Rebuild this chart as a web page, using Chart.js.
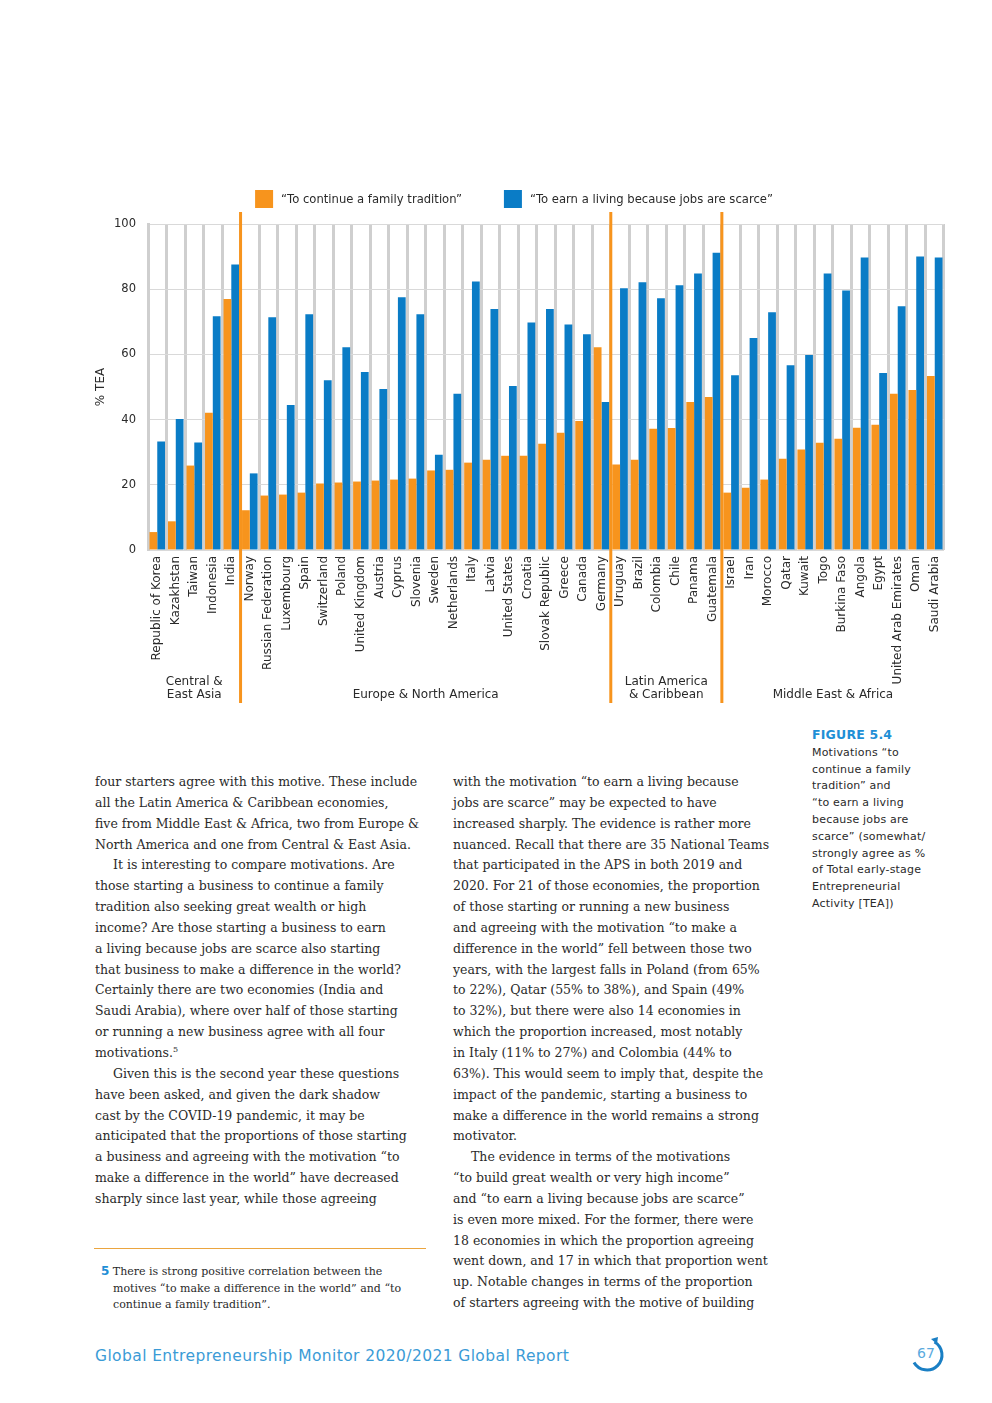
<!DOCTYPE html>
<html>
<head>
<meta charset="utf-8">
<script src="https://cdn.jsdelivr.net/npm/chart.js@4.4.1/dist/chart.umd.min.js"></script>
<style>
html, body { margin: 0; padding: 0; background: #fff; }
body { width: 992px; height: 1403px; position: relative; overflow: hidden; }
#chartBox { position: absolute; left: 88px; top: 180px; width: 872px; height: 530px; }
.col { position: absolute; top: 772px; font-family: 'DejaVu Serif', serif; font-size: 12.5px; line-height: 20.85px; color: #2a2a2a; white-space: pre; }
.ind { display: inline-block; width: 18px; }
sup { font-size: 8px; line-height: 0; }
.caption { position: absolute; left: 812px; top: 727px; font-family: 'DejaVu Sans', sans-serif; font-size: 11px; line-height: 16.8px; color: #2a2a2a; white-space: pre; letter-spacing: 0.2px; }
.caption b { color: #1f8fd6; font-size: 12.5px; font-weight: bold; }
.rule { position: absolute; left: 94px; top: 1248px; width: 332px; height: 1px; background: #eba53f; }
.note { position: absolute; left: 101px; top: 1263px; font-family: 'DejaVu Serif', serif; font-size: 11px; line-height: 16.5px; color: #2a2a2a; white-space: pre; }
.note b { font-family: 'DejaVu Sans', sans-serif; color: #1f8fd6; font-size: 12px; }
.note .ind2 { display: inline-block; width: 12px; }
.footer { position: absolute; left: 95px; top: 1347px; font-family: 'DejaVu Sans', sans-serif; font-size: 15.5px; color: #3b9bd6; letter-spacing: 0.4px; white-space: pre; }
.pnum { position: absolute; left: 905px; top: 1335px; width: 46px; height: 42px; }
.pnum span { position: absolute; left: 12px; top: 10px; font-family: 'DejaVu Sans', sans-serif; font-size: 14px; color: #5aaade; }
</style>
</head>
<body>
<div id="chartBox"><canvas id="chart"></canvas></div>

<div class="caption"><b>FIGURE 5.4</b>
Motivations “to
continue a family
tradition” and
“to earn a living
because jobs are
scarce” (somewhat/
strongly agree as %
of Total early-stage
Entrepreneurial
Activity [TEA])</div>

<div class="col" style="left:95px;">four starters agree with this motive. These include
all the Latin America &amp; Caribbean economies,
five from Middle East &amp; Africa, two from Europe &amp;
North America and one from Central &amp; East Asia.
<span class="ind"></span>It is interesting to compare motivations. Are
those starting a business to continue a family
tradition also seeking great wealth or high
income? Are those starting a business to earn
a living because jobs are scarce also starting
that business to make a difference in the world?
Certainly there are two economies (India and
Saudi Arabia), where over half of those starting
or running a new business agree with all four
motivations.<sup>5</sup>
<span class="ind"></span>Given this is the second year these questions
have been asked, and given the dark shadow
cast by the COVID-19 pandemic, it may be
anticipated that the proportions of those starting
a business and agreeing with the motivation “to
make a difference in the world” have decreased
sharply since last year, while those agreeing</div>

<div class="col" style="left:453px;">with the motivation “to earn a living because
jobs are scarce” may be expected to have
increased sharply. The evidence is rather more
nuanced. Recall that there are 35 National Teams
that participated in the APS in both 2019 and
2020. For 21 of those economies, the proportion
of those starting or running a new business
and agreeing with the motivation “to make a
difference in the world” fell between those two
years, with the largest falls in Poland (from 65%
to 22%), Qatar (55% to 38%), and Spain (49%
to 32%), but there were also 14 economies in
which the proportion increased, most notably
in Italy (11% to 27%) and Colombia (44% to
63%). This would seem to imply that, despite the
impact of the pandemic, starting a business to
make a difference in the world remains a strong
motivator.
<span class="ind"></span>The evidence in terms of the motivations
“to build great wealth or very high income”
and “to earn a living because jobs are scarce”
is even more mixed. For the former, there were
18 economies in which the proportion agreeing
went down, and 17 in which that proportion went
up. Notable changes in terms of the proportion
of starters agreeing with the motive of building</div>

<div class="rule"></div>
<div class="note"><b>5</b> There is strong positive correlation between the
<span class="ind2"></span>motives “to make a difference in the world” and “to
<span class="ind2"></span>continue a family tradition”.</div>

<div class="footer">Global Entrepreneurship Monitor 2020/2021 Global Report</div>
<div class="pnum">
  <svg width="46" height="42" viewBox="0 0 46 42">
    <path d="M 29.5 7 A 15 15 0 1 1 9 27.5" fill="none" stroke="#1a7fc4" stroke-width="3"/>
    <path d="M 26 4 L 33 2 L 32 9 Z" fill="#1a7fc4"/>
  </svg>
  <span>67</span>
</div>

<script>
// Pays, dans l'ordre du graphique
const countries = [
    'Republic of Korea', 'Kazakhstan', 'Taiwan', 'Indonesia', 'India',
    'Norway', 'Russian Federation', 'Luxembourg', 'Spain', 'Switzerland', 'Poland',
    'United Kingdom', 'Austria', 'Cyprus', 'Slovenia', 'Sweden', 'Netherlands', 'Italy',
    'Latvia', 'United States', 'Croatia', 'Slovak Republic', 'Greece', 'Canada', 'Germany',
    'Uruguay', 'Brazil', 'Colombia', 'Chile', 'Panama', 'Guatemala',
    'Israel', 'Iran', 'Morocco', 'Qatar', 'Kuwait', 'Togo', 'Burkina Faso', 'Angola',
    'Egypt', 'United Arab Emirates', 'Oman', 'Saudi Arabia'
];

// "To continue a family tradition" (% TEA)
const familyTradition = [
    5.5, 8.8, 25.9, 42.1, 77.0,
    12.2, 16.7, 17.0, 17.6, 20.4, 20.7, 21.0, 21.3, 21.6, 21.9, 24.4, 24.6, 26.8,
    27.7, 28.9, 28.9, 32.6, 36.0, 39.6, 62.2,
    26.2, 27.7, 37.2, 37.4, 45.4, 46.9,
    17.6, 19.1, 21.6, 28.0, 30.8, 32.9, 34.1, 37.5, 38.4, 47.9, 49.1, 53.4
];

// "To earn a living because jobs are scarce" (% TEA)
const jobsScarce = [
    33.3, 40.2, 33.0, 71.7, 87.6,
    23.5, 71.4, 44.5, 72.3, 52.1, 62.2, 54.6, 49.4, 77.5, 72.3, 29.2, 47.9, 82.4,
    73.9, 50.3, 69.8, 73.9, 69.2, 66.2, 45.4,
    80.3, 82.1, 77.2, 81.2, 84.8, 91.2,
    53.6, 65.0, 72.9, 56.7, 59.8, 84.8, 79.6, 89.7, 54.3, 74.8, 90.0, 89.7
];

// Régions et nombre de pays par région
const regionNames = ['Central &\nEast Asia', 'Europe & North America', 'Latin America\n& Caribbean', 'Middle East & Africa'];
const regionSizes = [5, 20, 6, 12];

const seriesLabels = ['“To continue a family tradition”', '“To earn a living because jobs are scarce”'];
const yTickValues = [0, 20, 40, 60, 80, 100];

const orange = '#f7941d';
const blue = '#0a7cc6';
const textColor = '#2a2a2a';
const chartFont = '"DejaVu Sans", sans-serif';

// Séparateurs orange et noms des régions
const regionPlugin = {
    id: 'regionPlugin',
    afterDraw(chart) {
        const { ctx, chartArea, scales: { x } } = chart;
        ctx.save();
        ctx.font = '12px ' + chartFont;
        ctx.fillStyle = textColor;
        ctx.textAlign = 'center';
        ctx.textBaseline = 'middle';
        let start = 0;
        regionNames.forEach((name, i) => {
            const end = start + regionSizes[i] - 1;
            const mid = (x.getPixelForValue(start) + x.getPixelForValue(end)) / 2;
            const lines = name.split('\n');
            lines.forEach((line, j) => {
                ctx.fillText(line, mid, chartArea.bottom + 145 - (lines.length - 1 - j) * 13);
            });
            if (i > 0) {
                const sx = (x.getPixelForValue(start - 1) + x.getPixelForValue(start)) / 2;
                ctx.strokeStyle = orange;
                ctx.lineWidth = 3;
                ctx.beginPath();
                ctx.moveTo(sx, chartArea.top - 12);
                ctx.lineTo(sx, chartArea.bottom + 153);
                ctx.stroke();
            }
            start += regionSizes[i];
        });
        ctx.restore();
    }
};

// Légende dessinée au-dessus du graphique
const legendPlugin = {
    id: 'legendPlugin',
    afterDraw(chart) {
        const { ctx, chartArea } = chart;
        ctx.save();
        ctx.font = '11.6px ' + chartFont;
        const items = chart.data.datasets.map(ds => ({
            text: ds.label,
            color: ds.backgroundColor,
            w: 26 + ctx.measureText(ds.label).width
        }));
        const gap = 42;
        const total = items.reduce((s, it) => s + it.w, 0) + gap * (items.length - 1);
        let xPos = chart.width / 2 - 10 - total / 2;
        const y = chartArea.top - 34;
        items.forEach(it => {
            ctx.fillStyle = it.color;
            ctx.fillRect(xPos, y, 18, 18);
            ctx.fillStyle = textColor;
            ctx.textAlign = 'left';
            ctx.textBaseline = 'middle';
            ctx.fillText(it.text, xPos + 26, y + 9.5);
            xPos += it.w + gap;
        });
        ctx.restore();
    }
};

new Chart(document.getElementById('chart'), {
    type: 'bar',
    data: {
        labels: countries,
        datasets: [
            { label: seriesLabels[0], data: familyTradition, backgroundColor: orange },
            { label: seriesLabels[1], data: jobsScarce, backgroundColor: blue }
        ]
    },
    options: {
        responsive: true,
        maintainAspectRatio: false,
        animation: false,
        devicePixelRatio: 1,
        categoryPercentage: 0.84,
        barPercentage: 1,
        layout: { padding: { top: 44, right: 16, bottom: 22, left: 0 } },
        plugins: {
            legend: { display: false },
            tooltip: { enabled: false }
        },
        scales: {
            x: {
                grid: { color: '#cfcfcf', lineWidth: 3, offset: true, drawTicks: false },
                border: { display: false },
                ticks: {
                    autoSkip: false,
                    maxRotation: 90,
                    minRotation: 90,
                    padding: 6,
                    color: textColor,
                    font: { family: chartFont, size: 12 }
                },
                afterFit: scale => { scale.height = 138; }
            },
            y: {
                min: 0,
                max: 100,
                afterBuildTicks: scale => { scale.ticks = yTickValues.map(v => ({ value: v })); },
                grid: { color: '#d9d9d9', lineWidth: 1, drawTicks: false },
                border: { color: '#cfcfcf', width: 3 },
                ticks: {
                    padding: 12,
                    color: textColor,
                    font: { family: chartFont, size: 11.5 }
                },
                title: {
                    display: true,
                    text: '% TEA',
                    color: textColor,
                    font: { family: chartFont, size: 12 },
                    padding: { top: 6, bottom: 0 }
                },
                afterFit: scale => { scale.width = 60; }
            }
        }
    },
    plugins: [regionPlugin, legendPlugin]
});
</script>
</body>
</html>
